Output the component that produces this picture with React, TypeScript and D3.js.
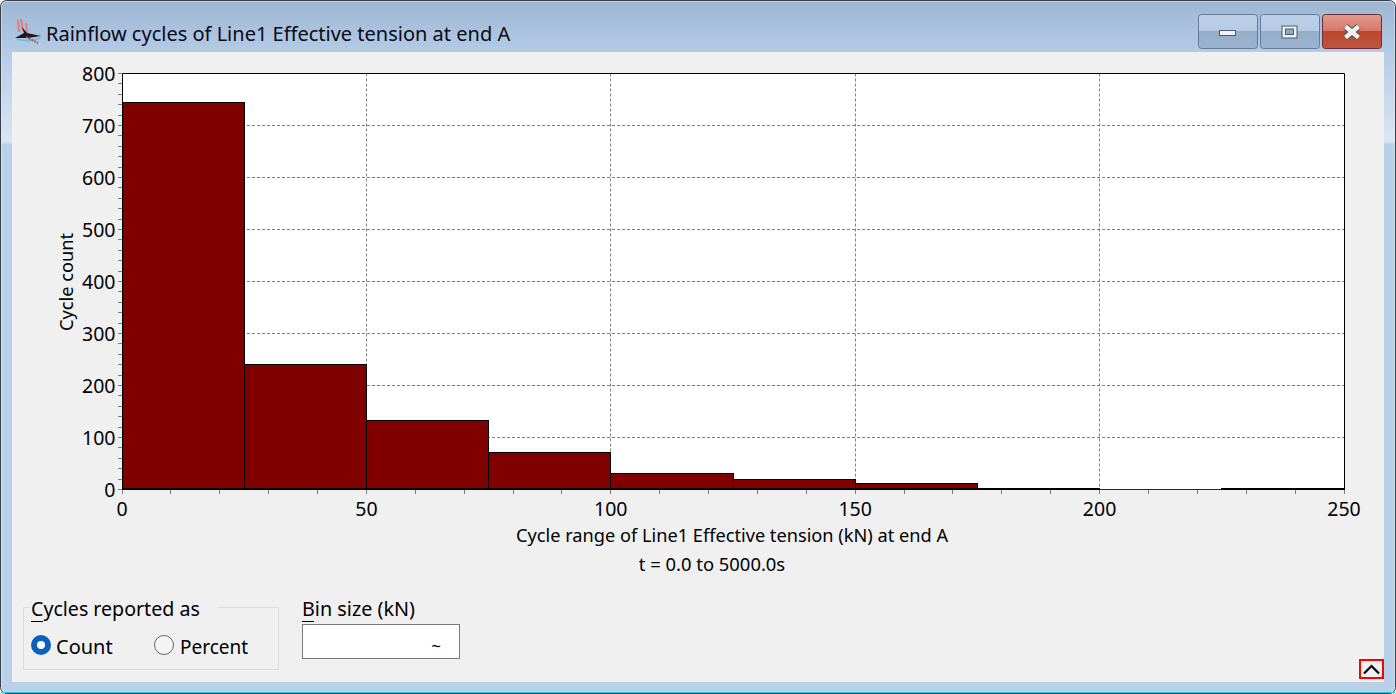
import React from "react";
import * as d3 from "d3";

const binStarts = [0, 25, 50, 75, 100, 125, 150, 175, 200, 225];
const binSize = 25;
const cycleCounts = [745, 240, 133, 71, 30, 20, 12, 2, 0, 2];
const xTicks = [0, 50, 100, 150, 200, 250];
const yTicks = [0, 100, 200, 300, 400, 500, 600, 700, 800];
const xMinor = d3.range(0, 251, 10);
const yMinor = d3.range(0, 801, 20);

const titleText = "Rainflow cycles of Line1 Effective tension at end A";
const xLabel = "Cycle range of Line1 Effective tension (kN) at end A";
const timeLabel = "t = 0.0 to 5000.0s";
const yLabel = "Cycle count";

const FONT = "'Noto Sans', 'Open Sans', sans-serif";
const snap = (v: number) => Math.floor(v) + 0.5;

export default function App() {
  const x = d3.scaleLinear().domain([0, 250]).range([122, 1344]);
  const y = d3.scaleLinear().domain([0, 800]).range([489.5, 73.5]);
  return (
    <svg
      width={1396}
      height={694}
      style={{ position: "absolute", left: 0, top: 0, display: "block", fontFamily: FONT }}
    >
      <defs>
        <linearGradient id="frame" x1="0" y1="0" x2="0" y2="1">
          <stop offset="0" stopColor="#9cb6d2" />
          <stop offset="0.075" stopColor="#b4cbe6" />
          <stop offset="0.203" stopColor="#d9e6f4" />
          <stop offset="0.208" stopColor="#b9d0e9" />
          <stop offset="1" stopColor="#b9d0e9" />
        </linearGradient>
        <linearGradient id="btn" x1="0" y1="0" x2="0" y2="1">
          <stop offset="0" stopColor="#bcd1e8" />
          <stop offset="0.47" stopColor="#b4cbe3" />
          <stop offset="0.5" stopColor="#94aeca" />
          <stop offset="1" stopColor="#9ab4d0" />
        </linearGradient>
        <linearGradient id="closeBtn" x1="0" y1="0" x2="0" y2="1">
          <stop offset="0" stopColor="#e29a8d" />
          <stop offset="0.47" stopColor="#d47a6c" />
          <stop offset="0.5" stopColor="#b9452c" />
          <stop offset="1" stopColor="#c25540" />
        </linearGradient>
      </defs>

      {/* window frame */}
      <rect x={0.5} y={0.5} width={1395} height={693} rx={6} fill="url(#frame)" stroke="#3a3f47" />
      <rect x={1.5} y={1.5} width={1393} height={691} rx={5} fill="none" stroke="#e2ecf6" strokeOpacity={0.55} />
      <line x1={1} x2={1395} y1={692.5} y2={692.5} stroke="#2fc4e4" />
      <rect x={12} y={52} width={1372} height={630} fill="#f0f0f0" />

      {/* title bar */}
      <g>
        <path d="M18 20 L19 32 M21 19 L23 31 M26 23 L27 33" stroke="#e87a7a" strokeWidth={2} fill="none" />
        <path d="M15 38 L24 33 L22 27 L27 33 L41 36 L28 38 Z" fill="#1a1a22" />
        <path d="M17 39 Q28 43 41 38" stroke="#62c3d8" strokeWidth={1.5} fill="none" />
        <path d="M26 37 L38 43" stroke="#c0505a" strokeWidth={2} strokeDasharray="2 1" fill="none" />
      </g>
      <text x={46} y={40.5} fontSize={20} fill="#0a0a14">{titleText}</text>

      <rect x={1198.5} y={14.5} width={59} height={34} rx={3} fill="url(#btn)" stroke="#66799a" />
      <rect x={1260.5} y={14.5} width={59} height={34} rx={3} fill="url(#btn)" stroke="#66799a" />
      <rect x={1322.5} y={14.5} width={59} height={34} rx={3} fill="url(#closeBtn)" stroke="#6f2c38" />
      <rect x={1219.5} y={30.5} width={16} height={5} fill="#f0f2f5" stroke="#4f5a6b" />
      <rect x={1281.5} y={25.5} width={16} height={13} fill="#4f5a6b" />
      <rect x={1282.5} y={26.5} width={14} height={11} fill="#eef0f3" />
      <rect x={1285.5} y={29} width={8} height={5.5} fill="#8ea8c4" stroke="#4f5a6b" />
      <path d="M1345.5 26.5 L1358.5 37.5 M1358.5 26.5 L1345.5 37.5" stroke="#55504f" strokeWidth={6.5} />
      <path d="M1345.5 26.5 L1358.5 37.5 M1358.5 26.5 L1345.5 37.5" stroke="#f1f1f1" strokeWidth={4.5} />

      {/* plot */}
      <rect x={x(0)} y={y(800)} width={x(250) - x(0)} height={y(0) - y(800)} fill="#fff" />
      {yTicks.slice(1, -1).map((t) => (
        <line key={t} x1={x(0)} x2={x(250)} y1={snap(y(t))} y2={snap(y(t))} stroke="#808080" strokeDasharray="3 2" />
      ))}
      {xTicks.slice(1, -1).map((t) => (
        <line key={t} x1={snap(x(t))} x2={snap(x(t))} y1={y(800)} y2={y(0)} stroke="#808080" strokeDasharray="3 2" />
      ))}
      {binStarts.map((b, i) =>
        cycleCounts[i] > 0 ? (
          <rect
            key={b}
            x={snap(x(b))}
            y={snap(y(cycleCounts[i]))}
            width={snap(x(b + binSize)) - snap(x(b))}
            height={snap(y(0)) - snap(y(cycleCounts[i]))}
            fill="#800000"
            stroke="#000"
            strokeWidth={1}
          />
        ) : (
          <line key={b} x1={x(b)} x2={x(b + binSize)} y1={489.5} y2={489.5} stroke="#800000" />
        )
      )}
      <path
        d={`M${snap(x(0))} ${y(800)} H${snap(x(250))} V${snap(y(0))}`}
        fill="none"
        stroke="#000"
      />
      <line x1={snap(x(0))} x2={snap(x(0))} y1={y(800)} y2={y(0)} stroke="#000" />
      <line x1={x(0)} x2={x(200)} y1={489} y2={489} stroke="#000" strokeWidth={2} />
      <line x1={x(225)} x2={x(250)} y1={489} y2={489} stroke="#000" strokeWidth={2} />

      {/* ticks */}
      {yMinor.map((t) => (
        <line key={t} x1={x(0) - 4} x2={x(0)} y1={snap(y(t))} y2={snap(y(t))} stroke="#808080" />
      ))}
      {xMinor.map((t) => (
        <line key={t} x1={snap(x(t))} x2={snap(x(t))} y1={490} y2={494} stroke="#808080" />
      ))}
      <g fontSize={19.5} fill="#000">
        {yTicks.map((t) => (
          <text key={t} x={115.5} y={y(t) + 7.5} textAnchor="end">{t}</text>
        ))}
        {xTicks.map((t) => (
          <text key={t} x={x(t)} y={516} textAnchor="middle">{t}</text>
        ))}
      </g>
      <text x={732} y={542} fontSize={18.2} textAnchor="middle" fill="#000">{xLabel}</text>
      <text x={712} y={570.5} fontSize={18.4} textAnchor="middle" fill="#000">{timeLabel}</text>
      <text transform="translate(73,282) rotate(-90)" fontSize={18.2} textAnchor="middle" fill="#000">{yLabel}</text>

      {/* controls */}
      <path d="M30 607.5 H23.5 V669.5 H278.5 V607.5 H217" fill="none" stroke="#dcdcdc" />
      <text x={31} y={616} fontSize={19.6} fill="#000">Cycles reported as</text>
      <line x1={31} x2={43} y1={621.5} y2={621.5} stroke="#000" />
      <circle cx={41} cy={645} r={10} fill="#0a60bd" />
      <circle cx={41} cy={645} r={4} fill="#fff" />
      <text x={56} y={653.5} fontSize={20} fill="#000">Count</text>
      <circle cx={164} cy={645} r={9.5} fill="#f4f4f4" stroke="#666" />
      <text x={180} y={653.5} fontSize={19} fill="#000">Percent</text>
      <text x={302} y={616} fontSize={19.8} fill="#000">Bin size (kN)</text>
      <line x1={302} x2={314} y1={621.5} y2={621.5} stroke="#000" />
      <rect x={302.5} y={624.5} width={157} height={34} fill="#fff" stroke="#7a7a7a" />
      <text x={436} y={652} fontSize={17} textAnchor="middle" fill="#000">~</text>
      <rect x={1360} y={660} width={23} height={18} fill="#f0f0f0" stroke="#ff0000" strokeWidth={2} />
      <path d="M1364 673.5 L1371.5 666 L1379 673.5" fill="none" stroke="#000" strokeWidth={2.2} />
    </svg>
  );
}
